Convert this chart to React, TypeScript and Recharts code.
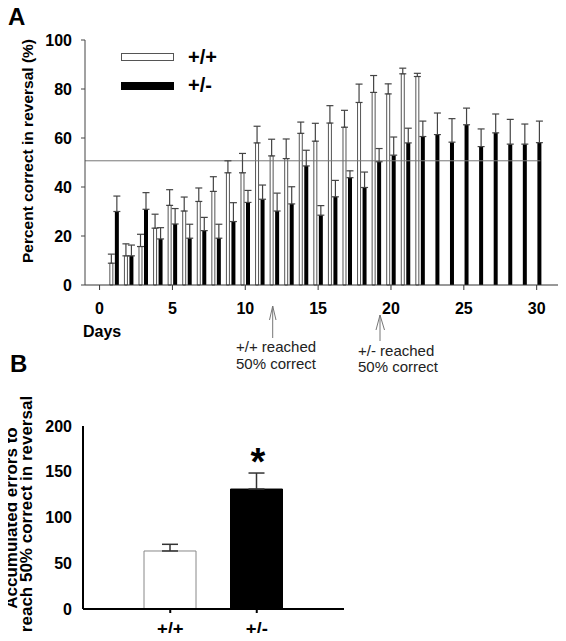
import { Bar, BarChart, Cell, ErrorBar, Legend, ReferenceLine, XAxis, YAxis } from "recharts";

// Panel A: percent correct per reversal day, mean and SEM per genotype
const days = [1, 2, 3, 4, 5, 6, 7, 8, 9, 10, 11, 12, 13, 14, 15, 16, 17, 18, 19, 20, 21, 22, 23, 24, 25, 26, 27, 28, 29, 30];
const wtMean = [8.9, 11.9, 15.7, 23.2, 32.5, 30.2, 34.1, 38.2, 45.8, 45.8, 58.0, 52.7, 51.6, 61.9, 58.7, 66.1, 64.4, 74.5, 78.6, 78.0, 86.2, 85.1, null, null, null, null, null, null, null, null];
const wtSem = [3.7, 4.9, 5.0, 5.7, 6.4, 5.7, 5.5, 6.0, 4.9, 7.9, 6.8, 6.8, 8.0, 4.6, 7.3, 7.1, 6.9, 7.5, 6.9, 4.1, 2.3, 1.3, null, null, null, null, null, null, null, null];
const hetMean = [30.0, 11.9, 30.9, 18.8, 24.9, 19.1, 22.2, 19.1, 25.9, 33.7, 35.0, 30.2, 33.1, 48.6, 28.5, 36.0, 43.8, 39.8, 50.3, 53.0, 58.0, 60.6, 61.4, 58.3, 65.4, 56.5, 62.1, 57.5, 57.5, 58.1];
const hetSem = [6.3, 4.4, 6.8, 4.6, 6.3, 5.7, 5.4, 5.7, 7.7, 4.9, 5.8, 7.3, 7.0, 6.4, 3.9, 6.7, 2.8, 6.3, 5.4, 7.4, 6.0, 6.3, 8.8, 9.6, 6.8, 7.2, 7.7, 10.1, 8.2, 8.8];
const dayTicks = [0, 5, 10, 15, 20, 25, 30];
const percentTicks = [0, 20, 40, 60, 80, 100];
const criterion = 50.7;

// Panel B: accumulated errors to criterion
const genotypes = ["+/+", "+/-"];
const errorsMean = [63.4, 131.1];
const errorsSem = [7.3, 17.5];
const errorTicks = [0, 50, 100, 150, 200];

const FONT = "'Liberation Sans', Arial, Helvetica, sans-serif";

const reversal = days.map((day, i) => ({
	day,
	wt: wtMean[i],
	wtErr: wtSem[i] == null ? null : [0, wtSem[i]],
	het: hetMean[i],
	hetErr: [0, hetSem[i]],
}));

const accumulated = genotypes.map((g, i) => ({
	genotype: g,
	errors: errorsMean[i],
	sem: [0, errorsSem[i]],
}));

const tickStyle = { fill: "#000", fontSize: 16, fontWeight: 700, fontFamily: FONT };

function SeriesKey({ payload }: { payload?: any[] }) {
	return (
		<div style={{ fontFamily: FONT }}>
			{(payload ?? []).map((entry) => (
				<div key={entry.value} style={{ display: "flex", alignItems: "center", height: 28.4 }}>
					<span
						style={{
							display: "inline-block",
							boxSizing: "border-box",
							width: 53,
							height: 8,
							background: entry.color,
							border: `1px solid ${entry.color === "#fff" ? "#555" : "#000"}`,
						}}
					/>
					<span style={{ marginLeft: 14, fontSize: 20, fontWeight: 700, color: "#000" }}>{entry.value}</span>
				</div>
			))}
		</div>
	);
}

function Vertical({ text, cx, cy, size }: { text: string; cx: number; cy: number; size: number }) {
	return (
		<div
			style={{
				position: "absolute",
				left: cx - 160,
				top: cy - 10,
				width: 320,
				height: 20,
				lineHeight: "20px",
				textAlign: "center",
				fontSize: size,
				fontWeight: 700,
				whiteSpace: "nowrap",
				transform: "rotate(-90deg)",
			}}
		>
			{text}
		</div>
	);
}

const note = { position: "absolute" as const, fontSize: 15, lineHeight: "16.6px", color: "#222", whiteSpace: "nowrap" as const };

export default function App() {
	return (
		<div style={{ position: "relative", width: 566, height: 641, margin: -8, fontFamily: FONT, background: "#fff", overflow: "hidden" }}>
			<div style={{ position: "absolute", left: 0, top: 0 }}>
				<BarChart width={566} height={380} data={reversal} margin={{ top: 40, right: 6, bottom: 65, left: 0 }} barGap={2}>
					<XAxis
						dataKey="day"
						type="number"
						domain={[-1, 31.6]}
						ticks={dayTicks}
						allowDataOverflow
						interval={0}
						height={30}
						tickSize={5}
						tickMargin={13}
						stroke="#333"
						tick={tickStyle}
					/>
					<YAxis type="number" domain={[0, 100]} ticks={percentTicks} width={85} tickSize={4} tickMargin={9} stroke="#444" tick={tickStyle} />
					<ReferenceLine
						segment={[
							{ x: -1, y: criterion },
							{ x: 30.25, y: criterion },
						]}
						stroke="#777"
					/>
					<Bar dataKey="wt" name="+/+" fill="#fff" stroke="#555" strokeWidth={1} barSize={3} isAnimationActive={false}>
						<ErrorBar dataKey="wtErr" width={3.5} stroke="#444" strokeWidth={1.2} />
					</Bar>
					<Bar dataKey="het" name="+/-" fill="#000" barSize={4} isAnimationActive={false}>
						<ErrorBar dataKey="hetErr" width={3.5} stroke="#444" strokeWidth={1.2} />
					</Bar>
					<Legend
						layout="vertical"
						align="center"
						verticalAlign="middle"
						wrapperStyle={{ left: 121, top: 43, width: 140 }}
						content={(props: any) => <SeriesKey payload={props.payload} />}
					/>
				</BarChart>
			</div>

			<div style={{ position: "absolute", left: 0, top: 380 }}>
				<BarChart width={566} height={261} data={accumulated} margin={{ top: 46, right: 222, bottom: 2, left: 0 }}>
					<XAxis
						dataKey="genotype"
						padding={{ left: 44, right: 44 }}
						height={30}
						tickSize={4}
						tickMargin={9}
						stroke="#000"
						strokeWidth={2}
						tick={{ ...tickStyle, fontSize: 18.5 }}
					/>
					<YAxis type="number" domain={[0, 200]} ticks={errorTicks} width={83} tickSize={0} tickMargin={11} stroke="#000" strokeWidth={2} tick={tickStyle} />
					<Bar dataKey="errors" barSize={52} stroke="#888" strokeWidth={1} isAnimationActive={false}>
						{accumulated.map((row, i) => (
							<Cell key={row.genotype} fill={i === 0 ? "#fff" : "#000"} stroke={i === 0 ? "#888" : "#000"} />
						))}
						<ErrorBar dataKey="sem" width={8} stroke="#333" strokeWidth={1.5} />
					</Bar>
				</BarChart>
			</div>

			<div style={{ position: "absolute", left: 8, top: 5, fontSize: 24, fontWeight: 700, lineHeight: 1 }}>A</div>
			<div style={{ position: "absolute", left: 10, top: 351.5, fontSize: 24, fontWeight: 700, lineHeight: 1 }}>B</div>
			<Vertical text="Percent correct in reversal (%)" cx={28} cy={151} size={15.5} />
			<Vertical text="Accumulated errors to" cx={12} cy={517.5} size={17} />
			<Vertical text="reach 50% correct in reversal" cx={27} cy={514} size={17} />
			<div style={{ position: "absolute", left: 83, top: 324, fontSize: 16, fontWeight: 700, lineHeight: 1 }}>Days</div>

			<svg width={566} height={641} style={{ position: "absolute", left: 0, top: 0, pointerEvents: "none" }}>
				<g stroke="#777" strokeWidth={1} fill="none">
					<line x1={272.7} y1={306} x2={272.7} y2={338} />
					<polyline points="269.5,320 272.7,306 276,320" />
					<line x1={380} y1={315} x2={380} y2={341} />
					<polyline points="376,330 380,315 384.5,330" />
				</g>
			</svg>
			<div style={{ ...note, left: 236, top: 339.2 }}>
				+/+ reached
				<br />
				50% correct
			</div>
			<div style={{ ...note, left: 358, top: 342.8 }}>
				+/- reached
				<br />
				50% correct
			</div>
			<div style={{ position: "absolute", left: 238, top: 442.5, width: 40, textAlign: "center", fontSize: 38, fontWeight: 700, lineHeight: 1 }}>*</div>
		</div>
	);
}
